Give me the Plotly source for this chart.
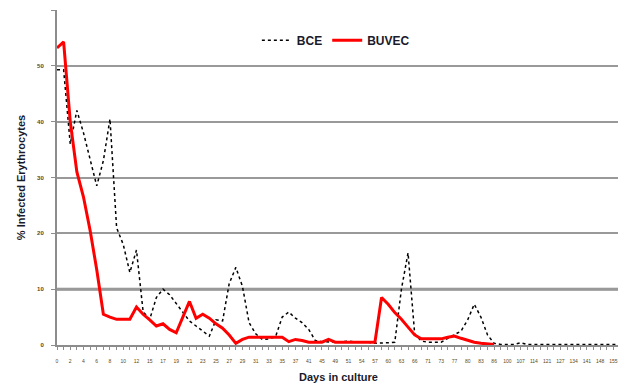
import plotly.graph_objects as go

days = [0,1,2,3,4,5,6,7,8,9,10,11,12,13,15,16,17,18,19,20,21,22,23,24,25,26,27,28,29,30,
        31,32,33,34,35,36,37,39,41,43,45,47,49,50,51,53,54,56,57,59,60,62,63,65,66,68,
        71,72,73,75,77,79,80,82,83,84,86,93,100,104,107,111,114,118,121,124,127,131,134,
        138,141,144,148,151,155,158]

bce = [49.3, 49.3, 36, 42, 38, 33, 28.5, 33, 40.5, 21, 18, 13, 17, 6, 4.6, 8.5, 10, 9, 7.5, 6,
       4.3, 3.4, 2.5, 1.6, 4.5, 4.3, 11, 13.9, 10.5, 4, 2.0, 1.0, 1.1, 1.5, 5.0, 5.9, 4.8, 4.0, 2.8, 0.8,
       0.6, 0.5, 0.5, 0.6, 0.7, 0.5, 0.5, 0.5, 0.3, 0.3, 0.4, 0.5, 10, 16.5, 2, 0.7, 0.5, 0.5, 0.5, 1.2,
       1.8, 2.5, 4.5, 7.3, 5, 1.8, 0.3, 0.1, 0.1, 0.1, 0.4, 0.1, 0.1, 0.1, 0.1, 0.1, 0.1, 0.1, 0.1, 0.1,
       0.1, 0.1, 0.1, 0.1, 0.1, 0.1]

buvec = [53.2, 54.3, 40, 31, 26.5, 20.5, 13.5, 5.5, 5.0, 4.6, 4.6, 4.6, 6.8, 5.5, 4.5, 3.4, 3.8, 2.8, 2.2, 5.0,
         7.8, 4.8, 5.5, 4.8, 3.8, 3.0, 1.8, 0.3, 1.0, 1.4, 1.4, 1.4, 1.4, 1.4, 1.4, 0.6, 1.0, 0.8, 0.5, 0.5,
         0.5, 1.0, 0.5, 0.5, 0.5, 0.5, 0.5, 0.5, 0.5, 8.5, 7.3, 5.8, 4.6, 3.2, 1.8, 1.1, 1.1, 1.1, 1.1, 1.4,
         1.6, 1.2, 0.8, 0.5, 0.3, 0.2, 0.1] + [None] * 19

y_ticks = [0, 10, 20, 30, 40, 50, 60]

cats = [str(d) for d in days]
ticktext = [c if i % 2 == 0 else "" for i, c in enumerate(cats)]

fig = go.Figure()
fig.add_trace(go.Scatter(x=cats, y=bce, mode="lines", name="BCE",
                         line=dict(color="black", width=1.5, dash="dot")))
fig.add_trace(go.Scatter(x=cats, y=buvec, mode="lines", name="BUVEC",
                         line=dict(color="#ff0000", width=3)))

fig.add_shape(type="line", xref="paper", x0=0, x1=1, yref="y", y0=10, y1=10,
              line=dict(color="#8c8c8c", width=3), layer="below")

font_family = "Liberation Sans, Arial, sans-serif"
fig.update_layout(
    width=626, height=386,
    margin=dict(l=49, r=14, t=2, b=49),
    paper_bgcolor="white", plot_bgcolor="white",
    font=dict(family=font_family, color="black"),
    showlegend=True,
    legend=dict(orientation="h", x=0.355, xanchor="left", y=0.91, yanchor="middle",
                font=dict(size=12, family=font_family, weight="bold", color="#1a1a2a"),
                bgcolor="rgba(0,0,0,0)", itemwidth=30, tracegroupgap=0),
    xaxis=dict(type="category", range=[0, len(cats) - 1], automargin=False,
               tickmode="array", tickvals=cats, ticktext=ticktext,
               tickangle=0, tickfont=dict(size=5, color="#5a4a20"),
               ticks="outside", ticklen=3, tickcolor="#8c8c8c", ticklabelstandoff=7,
               showline=True, linecolor="#8c8c8c", linewidth=2,
               showgrid=False, zeroline=False,
               title=dict(text="Days in culture", standoff=10,
                          font=dict(size=11, weight="bold", color="#1a1a2a"))),
    yaxis=dict(range=[0, 60], tickvals=y_ticks, ticktext=[str(v) for v in y_ticks],
               automargin=False,
               tickfont=dict(size=6, weight="bold", color="#5a4a20"),
               ticks="outside", ticklen=4, tickcolor="#8c8c8c", ticklabelstandoff=6,
               showline=True, linecolor="#8c8c8c", linewidth=2,
               showgrid=True, gridcolor="#999999", gridwidth=1.5, zeroline=False,
               title=dict(text="% Infected Erythrocytes", standoff=9,
                          font=dict(size=11, weight="bold", color="#1a1a2a"))),
)

fig.write_html("out.html")
